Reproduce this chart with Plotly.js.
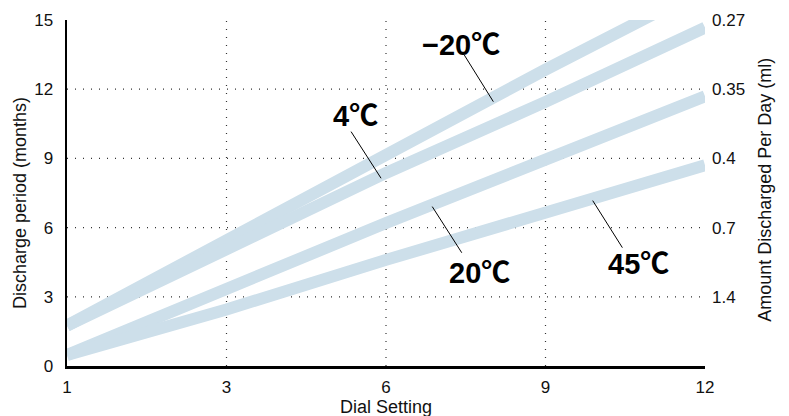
<!DOCTYPE html>
<html>
<head>
<meta charset="utf-8">
<script src="https://cdn.plot.ly/plotly-3.0.1.min.js"></script>
<style>html,body{margin:0;padding:0;background:#fff;}#chart{width:789px;height:416px;}</style>
</head>
<body>
<div id="chart"></div>
<script>
// ---- data ----
var dialSettings = ['1', '3', '6', '9', '12'];
var seriesNames = ['−20℃', '4℃', '20℃', '45℃'];
var periodMinus20 = [1.75, 5.45, 9.28, 12.85, 16.4];
var period4 = [1.75, 5.1, 8.37, 11.45, 14.67];
var period20 = [0.48, 3.4, 6.2, 8.95, 11.69];
var period45 = [0.48, 2.45, 4.6, 6.69, 8.7];
var leftTicks = [0, 3, 6, 9, 12, 15];
var rightTickVals = [3, 6, 9, 12, 15];
var rightTickText = ['1.4', '0.7', '0.4', '0.35', '0.27'];
var gridY = [3, 6, 9, 12];
var gridXIdx = [1, 2, 3];

var BAND = '#cddfea';
var FONT = 'Liberation Sans, Arial, Helvetica, sans-serif';
var LABELFONT = 'Liberation Sans, Arial, Noto Sans CJK JP, sans-serif';

var allSeries = [periodMinus20, period4, period20, period45];
var traces = allSeries.map(function (ys, i) {
  return {
    type: 'scatter', mode: 'lines', name: seriesNames[i],
    x: dialSettings, y: ys,
    line: {color: BAND, width: 12},
    hoverinfo: 'skip', showlegend: false
  };
});
// invisible carrier trace for the right axis
traces.push({type: 'scatter', mode: 'lines', x: dialSettings, y: period45, yaxis: 'y2',
  line: {color: 'rgba(0,0,0,0)', width: 0}, hoverinfo: 'skip', showlegend: false});

var shapes = [];
gridY.forEach(function (v) {
  shapes.push({type: 'line', layer: 'below', xref: 'paper', x0: 0, x1: 1, yref: 'y', y0: v, y1: v,
    line: {color: '#333', width: 1.2, dash: '1px,7px'}});
});
gridXIdx.forEach(function (v) {
  shapes.push({type: 'line', layer: 'below', yref: 'paper', y0: 0, y1: 1, xref: 'x', x0: v, x1: v,
    line: {color: '#333', width: 1.2, dash: '1px,7px'}});
});

// leader lines (label -> band)
var leaders = [
  [2.491, 13.48, 2.673, 11.46],
  [1.781, 10.16, 1.969, 8.14],
  [2.290, 6.91, 2.475, 4.91],
  [3.296, 7.17, 3.482, 5.13]
];
leaders.forEach(function (l) {
  shapes.push({type: 'line', xref: 'x', yref: 'y', x0: l[0], y0: l[1], x1: l[2], y1: l[3],
    line: {color: '#000', width: 1}});
});

var labelPos = [[2.473, 13.92], [1.806, 10.84], [2.589, 4.03], [3.586, 4.42]];
var annotations = labelPos.map(function (p, i) {
  return {xref: 'x', yref: 'y', x: p[0], y: p[1], text: '<b>' + seriesNames[i] + '</b>',
    showarrow: false, font: {family: LABELFONT, size: 29, color: '#000'}};
});
annotations.push({xref: 'paper', yref: 'paper', x: -0.0737, y: 0.471, xanchor: 'center', yanchor: 'middle',
  text: 'Discharge period (months)',
  textangle: -90, showarrow: false, font: {family: FONT, size: 18, color: '#111'}});
annotations.push({xref: 'paper', yref: 'paper', x: 1.094, y: 0.509, xanchor: 'center', yanchor: 'middle',
  text: 'Amount Discharged Per Day (ml)',
  textangle: -90, showarrow: false, font: {family: FONT, size: 18, color: '#111'}});
annotations.push({xref: 'paper', yref: 'paper', x: 0.5, y: -0.1185, xanchor: 'center', yanchor: 'middle',
  text: 'Dial Setting',
  showarrow: false, font: {family: FONT, size: 18, color: '#111'}});

var layout = {
  width: 789, height: 416,
  margin: {l: 67, r: 84, t: 20, b: 50, pad: 0},
  paper_bgcolor: '#fff', plot_bgcolor: 'rgba(0,0,0,0)',
  showlegend: false,
  xaxis: {type: 'category', range: [0, 4], showgrid: false, zeroline: false,
    showline: true, linecolor: '#000', linewidth: 2.5, ticks: '', ticklabelstandoff: 4,
    tickfont: {family: FONT, size: 17, color: '#111'}, fixedrange: true},
  yaxis: {range: [0, 15], tickvals: leftTicks, showgrid: false, zeroline: false,
    showline: true, linecolor: '#000', linewidth: 2.5, ticks: '', ticklabelstandoff: 8,
    tickfont: {family: FONT, size: 17, color: '#111'}, fixedrange: true},
  yaxis2: {overlaying: 'y', side: 'right', range: [0, 15], tickvals: rightTickVals, ticktext: rightTickText,
    showgrid: false, zeroline: false, showline: false, ticks: '', ticklabelstandoff: 6,
    tickfont: {family: FONT, size: 17, color: '#111'}, fixedrange: true},
  shapes: shapes,
  annotations: annotations
};

Plotly.newPlot('chart', traces, layout, {displayModeBar: false, staticPlot: true});
</script>
</body>
</html>
